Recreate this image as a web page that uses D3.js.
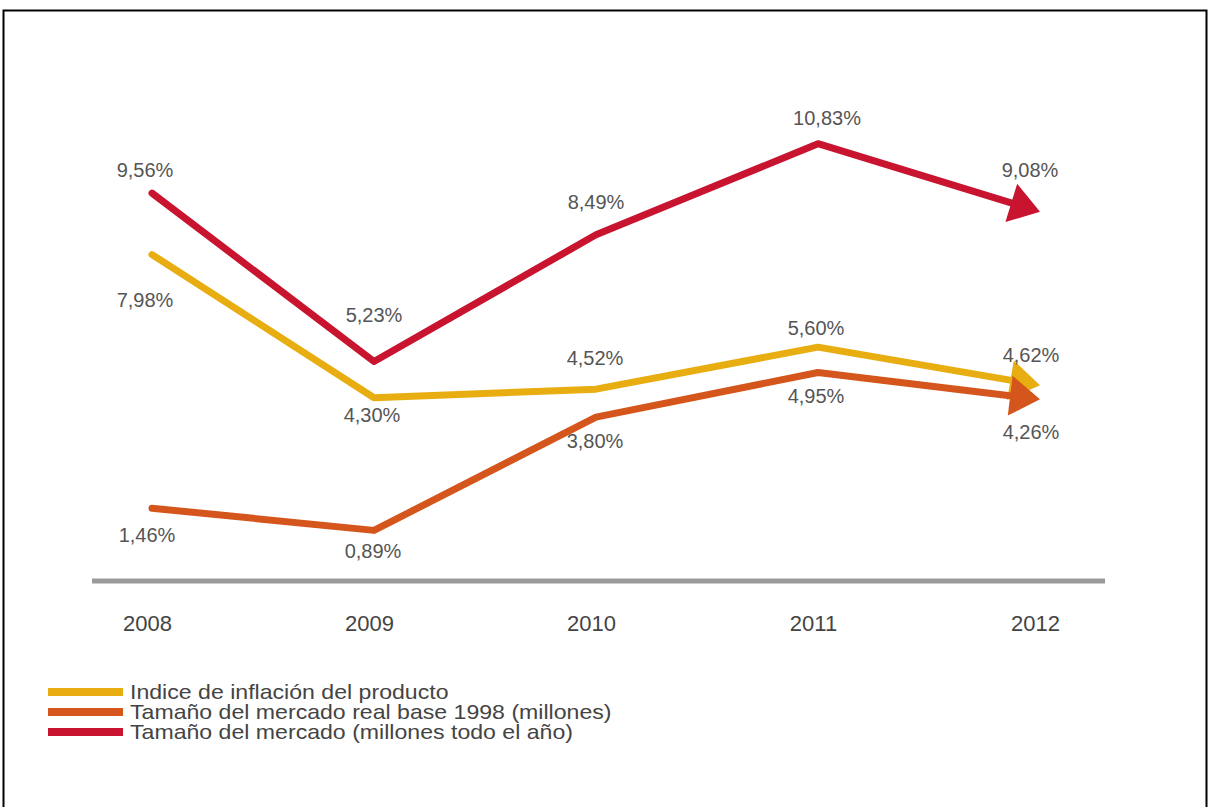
<!DOCTYPE html>
<html>
<head>
<meta charset="utf-8">
<script src="https://cdn.jsdelivr.net/npm/d3@7"></script>
<style>
  body { margin: 0; background: #fff; }
  svg { display: block; }
</style>
</head>
<body>
<div id="chart"></div>
<script>
var width = 1209;
var height = 807;

// data
var years = ["2008", "2009", "2010", "2011", "2012"];
var inflacion = [7.98, 4.30, 4.52, 5.60, 4.62];
var mercadoReal = [1.46, 0.89, 3.80, 4.95, 4.26];
var mercado = [9.56, 5.23, 8.49, 10.83, 9.08];
var legendLabels = [
  "Indice de inflación del producto",
  "Tamaño del mercado real base 1998 (millones)",
  "Tamaño del mercado (millones todo el año)"
];

// label offsets (dx, dy from the point) per series
var offInfl = [[-7, 45], [-2, 17], [-1, -31], [-2, -19], [-9, -30]];
var offReal = [[-5, 27], [-1, 21], [-1, 24], [-2, 24], [-9, 33]];
var offMerc = [[-7, -23], [0, -47], [0, -33], [9, -26], [-10, -42]];

var series = [
  {values: inflacion, color: "#e8ad10", off: offInfl},
  {values: mercadoReal, color: "#d4561c", off: offReal},
  {values: mercado, color: "#c8142f", off: offMerc}
];

var svg = d3.select("#chart").append("svg")
  .attr("width", width)
  .attr("height", height);

// frame
svg.append("path")
  .attr("d", "M3.5,807 V10.5 H1206.5 V807")
  .attr("fill", "none")
  .attr("stroke", "#000")
  .attr("stroke-width", 2);

var x = d3.scalePoint().domain(years).range([152, 1040]);
var y = d3.scaleLinear().domain([0, 10]).range([565, 176]);

// base axis line
svg.append("line")
  .attr("x1", 92).attr("x2", 1105)
  .attr("y1", 581).attr("y2", 581)
  .attr("stroke", "#9a9a9a")
  .attr("stroke-width", 5);

var axis = d3.axisBottom(x).tickSize(0).tickPadding(0);
var gx = svg.append("g").attr("transform", "translate(0,615)").call(axis);
gx.select(".domain").remove();
gx.selectAll("text")
  .attr("dx", "-5")
  .attr("font-family", "Liberation Sans, Arial, sans-serif")
  .attr("font-size", "22px")
  .attr("fill", "#444");

var line = d3.line()
  .x(function(d) { return d[0]; })
  .y(function(d) { return d[1]; });

var headLen = 30, headHalf = 20;

series.forEach(function(s) {
  var pts = s.values.map(function(v, i) { return [x(years[i]), y(v)]; });
  var n = pts.length;
  var tip = pts[n - 1], prev = pts[n - 2];
  var dx = tip[0] - prev[0], dy = tip[1] - prev[1];
  var len = Math.sqrt(dx * dx + dy * dy);
  var ux = dx / len, uy = dy / len;
  var base = [tip[0] - ux * headLen, tip[1] - uy * headLen];
  var linePts = pts.slice(0, n - 1).concat([[base[0] + ux * 4, base[1] + uy * 4]]);

  svg.append("path")
    .attr("d", line(linePts))
    .attr("fill", "none")
    .attr("stroke", s.color)
    .attr("stroke-width", 7)
    .attr("stroke-linecap", "round")
    .attr("stroke-linejoin", "round");

  var head = [
    tip,
    [base[0] - uy * headHalf, base[1] + ux * headHalf],
    [base[0] + uy * headHalf, base[1] - ux * headHalf]
  ];
  svg.append("path")
    .attr("d", "M" + head.join("L") + "Z")
    .attr("fill", s.color);
});

// value labels
series.forEach(function(s) {
  svg.append("g").selectAll("text")
    .data(s.values)
    .enter()
    .append("text")
    .attr("x", function(d, i) { return x(years[i]) + s.off[i][0]; })
    .attr("y", function(d, i) { return y(d) + s.off[i][1]; })
    .attr("dy", "0.35em")
    .attr("text-anchor", "middle")
    .attr("font-family", "Liberation Sans, Arial, sans-serif")
    .attr("font-size", "20px")
    .attr("fill", "#555")
    .text(function(d) { return d.toFixed(2).replace(".", ",") + "%"; });
});

// legend
var legend = svg.append("g").selectAll("g")
  .data(legendLabels)
  .enter()
  .append("g")
  .attr("transform", function(d, i) { return "translate(48," + (692 + i * 20) + ")"; });

legend.append("rect")
  .attr("x", 0).attr("y", -4)
  .attr("width", 75).attr("height", 8)
  .attr("fill", function(d, i) { return series[i].color; });

legend.append("text")
  .attr("x", 82)
  .attr("dy", "0.35em")
  .attr("font-family", "Liberation Sans Narrow, Arial Narrow, sans-serif")
  .attr("font-size", "21px")
  .attr("fill", "#444")
  .text(function(d) { return d; })
  .each(function() {
    // the original type is a bit wider than Liberation Narrow
    var w = this.getComputedTextLength();
    d3.select(this)
      .attr("textLength", w * 1.1)
      .attr("lengthAdjust", "spacingAndGlyphs");
  });
</script>
</body>
</html>
